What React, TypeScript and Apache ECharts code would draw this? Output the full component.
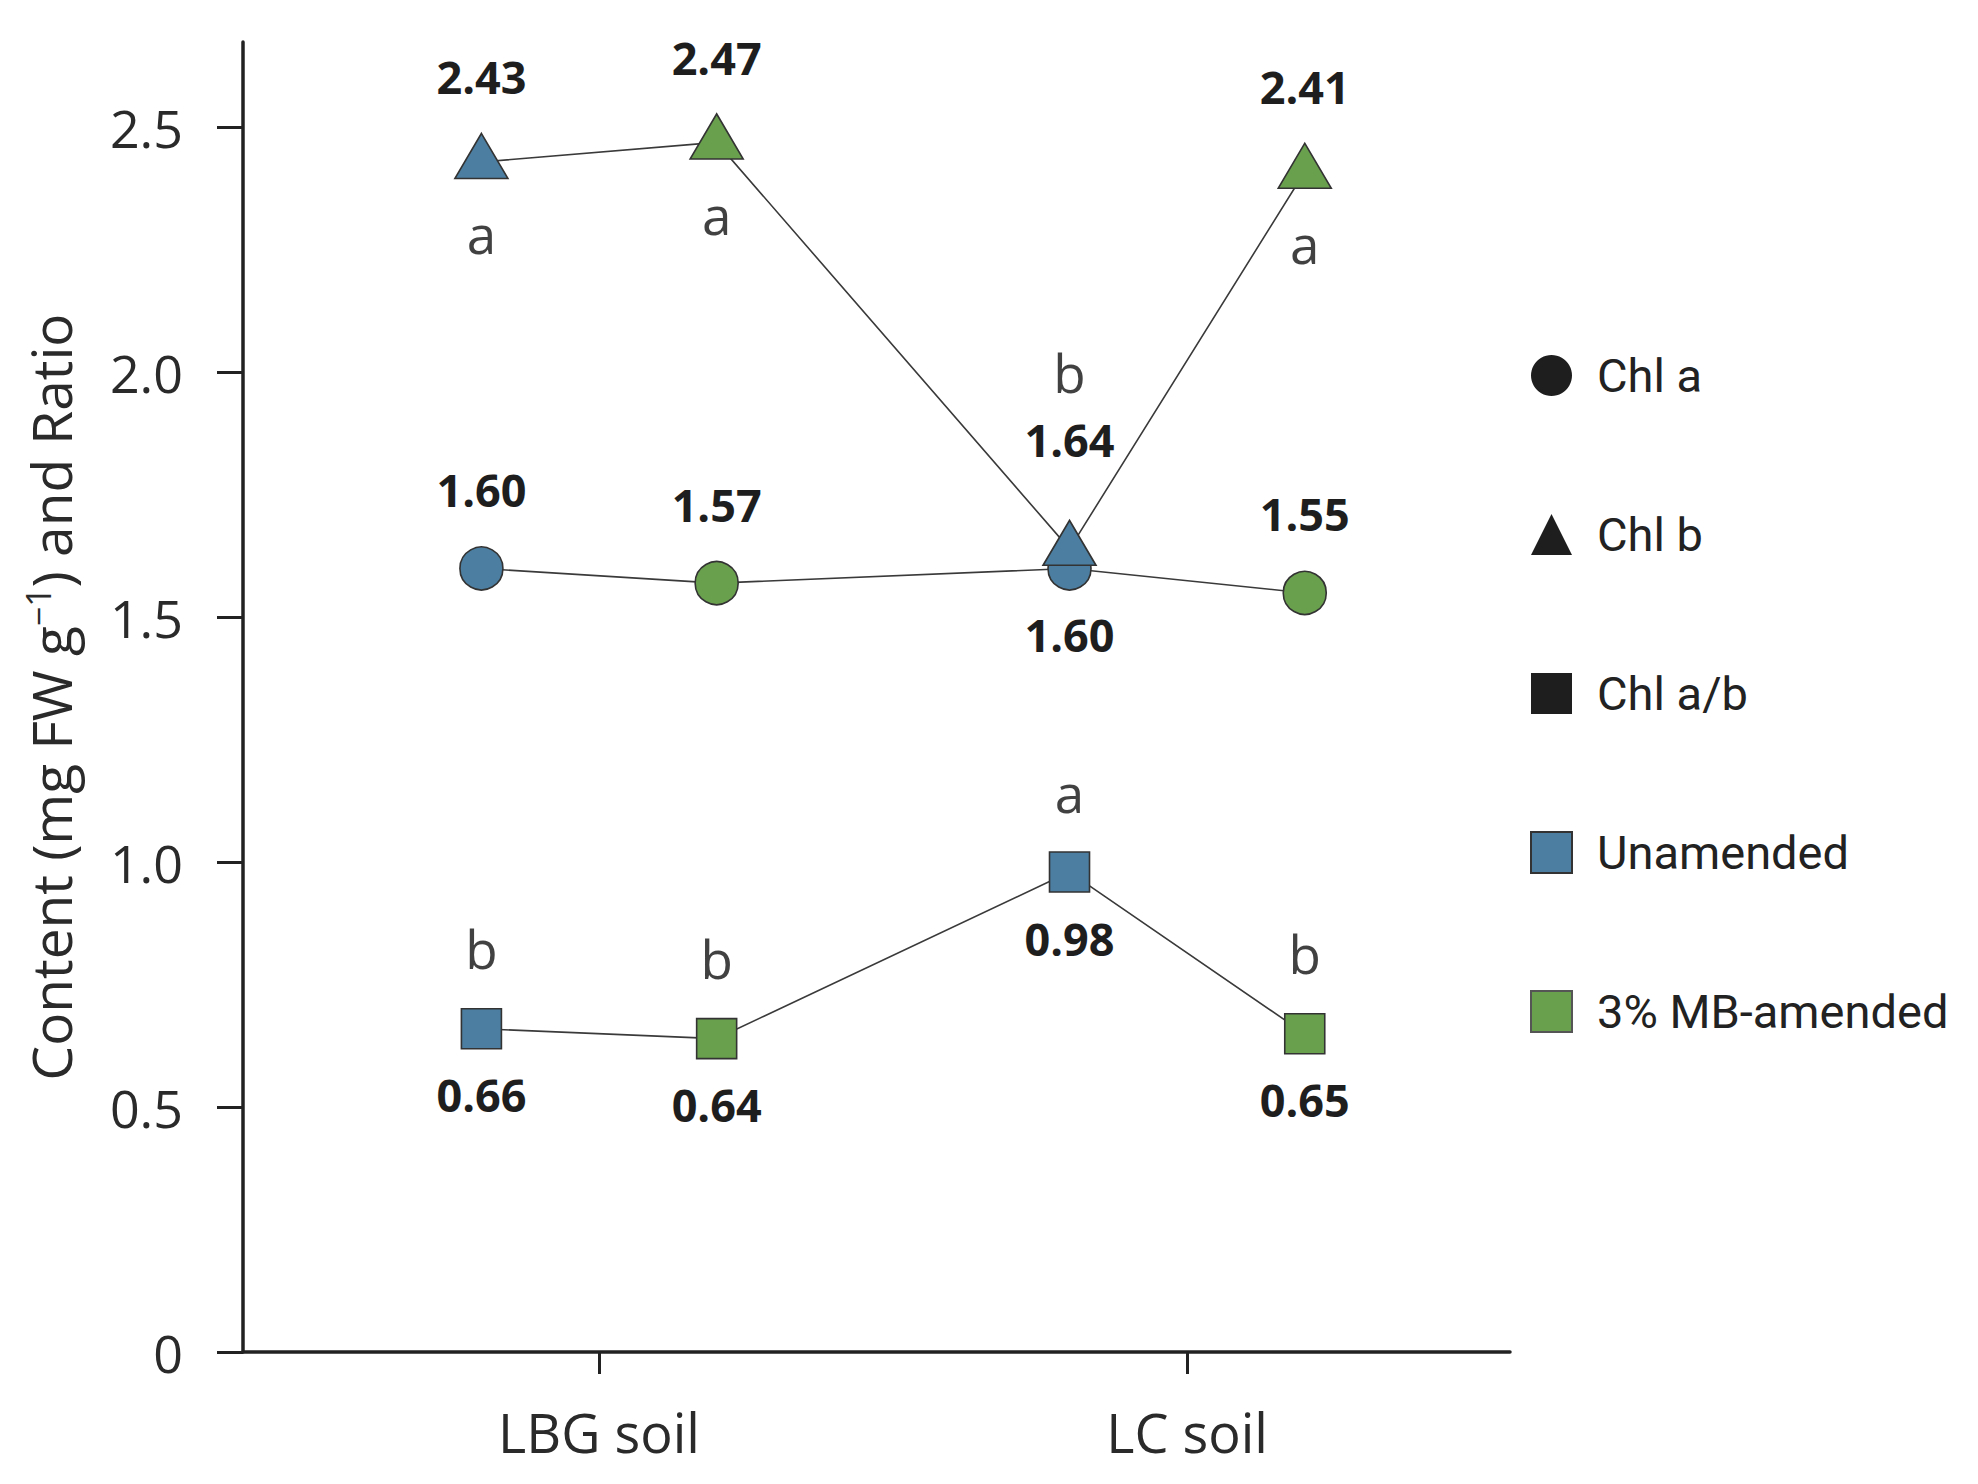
import React, { useEffect, useRef } from "react";
import * as echarts from "echarts";

// ---- data ----
const categories = ["LBG soil", "LC soil"];
const treatments = ["Unamended", "3% MB-amended"];
// point order: LBG-Unamended, LBG-MB, LC-Unamended, LC-MB
const chlA = [1.6, 1.57, 1.6, 1.55];
const chlB = [2.43, 2.47, 1.64, 2.41];
const chlRatio = [0.66, 0.64, 0.98, 0.65];
const chlBLetters = ["a", "a", "b", "a"];
const chlRatioLetters = ["b", "b", "a", "b"];
const yTicks = [0, 0.5, 1.0, 1.5, 2.0, 2.5];

// ---- style ----
const BLUE = "#4b7ea0";
const GREEN = "#69a04d";
const INK = "#1e1e1e";
const FONT = "'Open Sans', 'Noto Sans', sans-serif";
const NARROW = "Roboto, 'Noto Sans', sans-serif";
const DODGE = 0.2;
const NUM_ABOVE = -79;
const NUM_BELOW = 66;
const LET_ABOVE = -80;
const LET_BELOW = 72;

const pointX = (i: number) => Math.floor(i / 2) + 1 + (i % 2 === 0 ? -DODGE : DODGE);
const pointColor = (i: number) => (i % 2 === 0 ? BLUE : GREEN);

type Place = "above" | "below";
const chlANumPlace: Place[] = ["above", "above", "below", "above"];
const chlBNumPlace: Place[] = ["above", "above", "above", "above"];
const chlBLetPlace: Place[] = ["below", "below", "above", "below"];
const ratioNumPlace: Place[] = ["below", "below", "below", "below"];
const ratioLetPlace: Place[] = ["above", "above", "above", "above"];

function mainSeries(name: string, values: number[], symbol: string, size: any, numPlace: Place[], letPlace: Place[] | null, symbolOffset: number[]) {
  return {
    name,
    type: "line",
    z: 3,
    symbol,
    symbolSize: size,
    symbolOffset,
    showAllSymbol: true,
    lineStyle: { color: "#3a3a3a", width: 1.6 },
    itemStyle: { color: INK },
    data: values.map((v, i) => {
      let off = numPlace[i] === "above" ? NUM_ABOVE : NUM_BELOW;
      if (letPlace && letPlace[i] === "above" && numPlace[i] === "above") off = -103;
      return {
        value: [pointX(i), v],
        itemStyle: { color: pointColor(i), borderColor: "#333", borderWidth: 1.6 },
        label: {
          show: true,
          position: "inside",
          offset: [0, off],
          formatter: () => v.toFixed(2),
          fontFamily: FONT,
          fontWeight: "bold",
          fontSize: 45,
          color: INK,
        },
      };
    }),
  };
}

function letterSeries(name: string, values: number[], letters: string[], letPlace: Place[], numPlace: Place[]) {
  return {
    name,
    type: "scatter",
    z: 4,
    symbol: "circle",
    symbolSize: 1,
    silent: true,
    itemStyle: { color: "rgba(0,0,0,0)" },
    data: values.map((v, i) => {
      let off = letPlace[i] === "above" ? LET_ABOVE : LET_BELOW;
      if (letPlace[i] === "above" && numPlace[i] === "above") off = -176;
      return {
        value: [pointX(i), v],
        label: {
          show: true,
          position: "inside",
          offset: [0, off],
          formatter: () => letters[i],
          fontFamily: FONT,
          fontSize: 53,
          color: "#111",
        },
      };
    }),
  };
}

export default function App() {
  const ref = useRef<HTMLDivElement>(null);
  useEffect(() => {
    if (!ref.current) return;
    document.body.style.margin = "0";
    const chart = echarts.init(ref.current, null, { renderer: "svg" });
    const option: any = {
      animation: false,
      backgroundColor: "#ffffff",
      tooltip: { show: false },
      grid: { left: 243, top: 42, width: 1267, height: 1310 },
      legend: {
        orient: "vertical",
        left: 1525,
        top: 346,
        itemWidth: 41,
        itemHeight: 41,
        itemGap: 110,
        selectedMode: false,
        textStyle: {
          fontFamily: NARROW,
          fontSize: 47,
          lineHeight: 49,
          color: "#222",
          padding: [0, 0, 0, 20],
        },
        data: [
          { name: "Chl a", icon: "circle", itemStyle: { color: INK, borderWidth: 0 } },
          { name: "Chl b", icon: "triangle", itemStyle: { color: INK, borderWidth: 0 } },
          { name: "Chl a/b", icon: "rect", itemStyle: { color: INK, borderWidth: 0 } },
          { name: treatments[0], icon: "rect", itemStyle: { color: BLUE, borderColor: "#333", borderWidth: 2 } },
          { name: treatments[1], icon: "rect", itemStyle: { color: GREEN, borderColor: "#555", borderWidth: 2 } },
        ],
      },
      xAxis: {
        type: "value",
        min: 0.3946,
        max: 2.549,
        splitLine: { show: false },
        axisLine: { show: true, onZero: false, lineStyle: { color: "#222", width: 3.5 } },
        axisTick: { show: true, length: 22, customValues: [1, 2], lineStyle: { color: "#222", width: 3 } },
        axisLabel: {
          customValues: [1, 2],
          formatter: (v: number) => categories[Math.round(v) - 1] || "",
          margin: 52,
          fontSize: 54,
          lineHeight: 56,
          fontFamily: FONT,
          color: "#2a2a2a",
        },
      },
      yAxis: {
        type: "value",
        min: 0,
        max: 2.675,
        interval: 0.5,
        name: "Content (mg FW g{sup|−1}) and Ratio",
        nameLocation: "middle",
        nameRotate: 90,
        nameGap: 164,
        nameTextStyle: {
          fontFamily: FONT,
          fontSize: 55,
          lineHeight: 58,
          color: "#2a2a2a",
          rich: {
            sup: { fontFamily: FONT, fontSize: 34, verticalAlign: "top", lineHeight: 58, color: "#2a2a2a" },
          },
        },
        splitLine: { show: false },
        axisLine: { show: true, lineStyle: { color: "#222", width: 3.5 } },
        axisTick: { show: true, length: 26, customValues: yTicks, lineStyle: { color: "#222", width: 3 } },
        axisLabel: {
          customValues: yTicks,
          formatter: (v: number) => (v === 0 ? "0" : v.toFixed(1)),
          margin: 60,
          fontSize: 52,
          fontFamily: FONT,
          color: "#2a2a2a",
        },
      },
      series: [
        mainSeries("Chl a", chlA, "circle", 43, chlANumPlace, null, [0, 0]),
        mainSeries("Chl a/b", chlRatio, "rect", 40, ratioNumPlace, ratioLetPlace, [0, 0]),
        mainSeries("Chl b", chlB, "triangle", [53, 45], chlBNumPlace, chlBLetPlace, [0, -6]),
        letterSeries("Chl b letters", chlB, chlBLetters, chlBLetPlace, chlBNumPlace),
        letterSeries("Chl a/b letters", chlRatio, chlRatioLetters, ratioLetPlace, ratioNumPlace),
        { name: treatments[0], type: "line", data: [], itemStyle: { color: BLUE } },
        { name: treatments[1], type: "line", data: [], itemStyle: { color: GREEN } },
      ],
    };
    chart.setOption(option);
    return () => chart.dispose();
  }, []);
  return (
    <div
      ref={ref}
      style={{ position: "fixed", left: 0, top: 0, width: 1978, height: 1484, background: "#fff" }}
    />
  );
}
